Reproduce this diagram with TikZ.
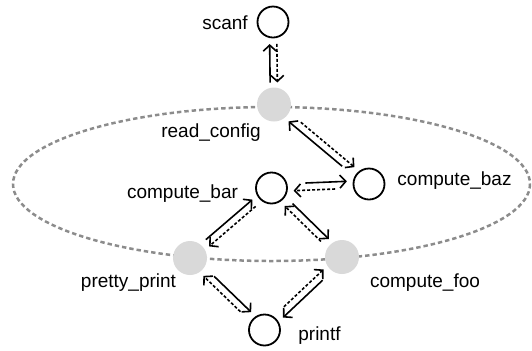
\documentclass[tikz,border=0pt]{standalone}
\usepackage{fontspec}
\setmainfont{Liberation Sans}
\usetikzlibrary{arrows.meta, calc}

% solid call #2 -> #3 and dashed return #3 -> #2, side by side
\newcommand{\callpair}[3][13.5pt]{%
  \draw[call, shorten <=#1] ($(#2)!1.8pt!90:(#3)$) -- ($(#3)!1.8pt!-90:(#2)$);
  \draw[ret, shorten <=#1] ($(#3)!1.8pt!90:(#2)$) -- ($(#2)!1.8pt!-90:(#3)$);
}

\begin{document}
\begin{tikzpicture}[x=0.5pt, y=-0.5pt,
  >={Straight Barb[length=3pt, width=6.5pt]},
  font=\fontsize{9.5}{11}\selectfont,
  fn/.style={circle, draw, line width=0.9pt, minimum size=15.5pt, inner sep=0pt},
  ext/.style={circle, fill=gray!30, minimum size=17pt, inner sep=0pt},
  fname/.style={inner sep=0pt, anchor=base},
  call/.style={->, line width=0.8pt, shorten >=11pt},
  ret/.style={call, dash pattern=on 1.5pt off 1pt},
  boundary/.style={draw=gray!90, line width=1.25pt, dash pattern=on 2.2pt off 1.5pt}]
  \useasboundingbox (0,0) rectangle (532,350);
  % module boundary
  \draw[boundary] (271.5,184) ellipse [x radius=258.5, y radius=77];
  % functions
  \node[fn] (scanf) at (273,22) {};
  \node[ext] (readcfg) at (274,104.5) {};
  \node[fn] (cbar) at (271.5,188) {};
  \node[fn] (cbaz) at (369,184) {};
  \node[ext] (pprint) at (190,258) {};
  \node[ext] (cfoo) at (342,257) {};
  \node[fn] (printf) at (264.5,330) {};
  % names
  \node[fname] (scanf-name) at (225,29) {scanf};
  \node[fname] (readcfg-name) at (211,137) {read\_config};
  \node[fname] (cbar-name) at (182.5,198) {compute\_bar};
  \node[fname] (cbaz-name) at (454.5,185) {compute\_baz};
  \node[fname] (pprint-name) at (128.5,287) {pretty\_print};
  \node[fname] (cfoo-name) at (425,287) {compute\_foo};
  \node[fname] (printf-name) at (319.5,340.5) {printf};
  % calls
  \callpair[11pt]{readcfg}{scanf}
  \callpair[16pt]{cbaz}{readcfg}
  \callpair[17pt]{cbar}{cbaz}
  \callpair[12pt]{pprint}{cbar}
  \callpair[13pt]{cbar}{cfoo}
  \callpair[15pt]{pprint}{printf}
  \callpair[15pt]{cfoo}{printf}
\end{tikzpicture}
\end{document}
